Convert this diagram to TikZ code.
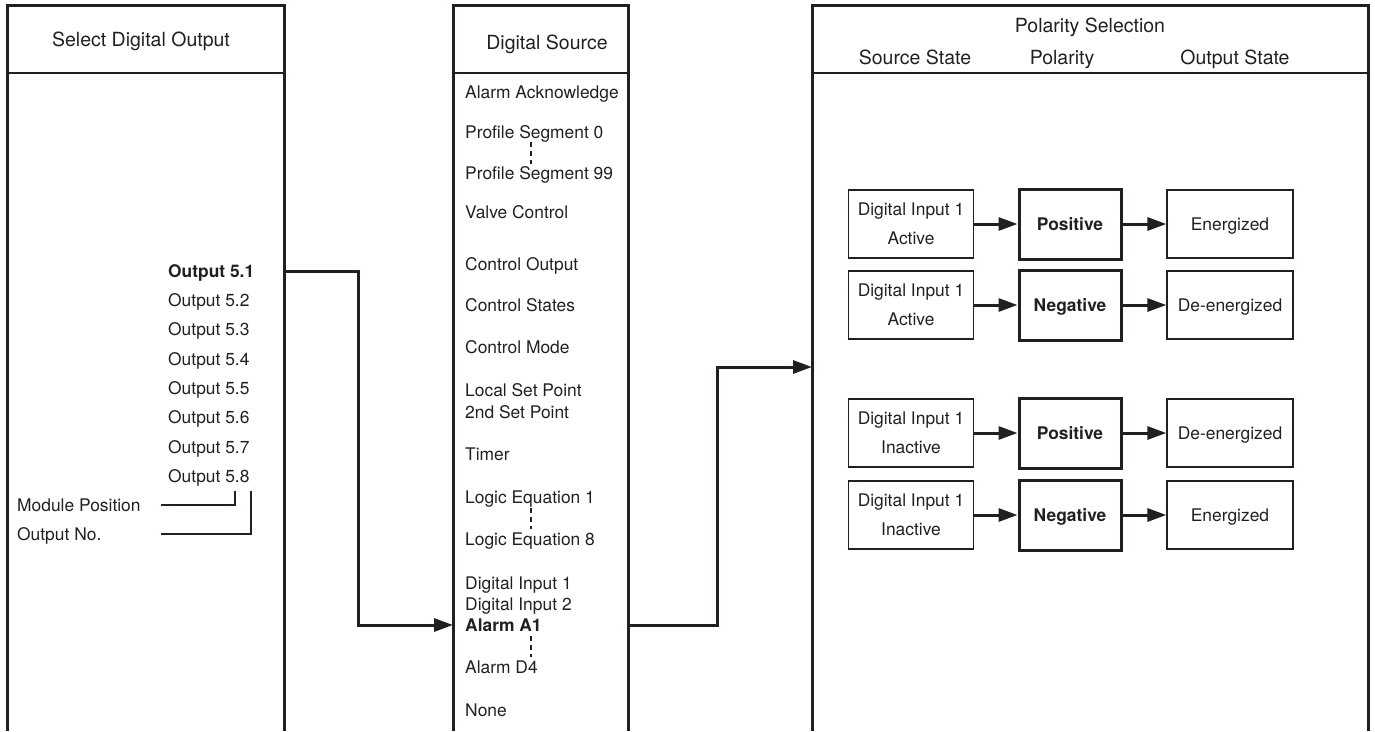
\documentclass[tikz,border=0pt]{standalone}
\usepackage{fontspec}
\setmainfont{TeX Gyre Heros}
\usetikzlibrary{arrows.meta}
\definecolor{ink}{HTML}{231F20}
\tikzset{
  panel/.style={draw=ink, line width=3pt},
  rule/.style={draw=ink, line width=1.4pt},
  lead/.style={draw=ink, line width=1.3pt},
  dots/.style={draw=ink, line width=1.3pt, dash pattern=on 5pt off 4pt},
  item/.style={anchor=west, inner sep=0pt, text height=12.4pt, text depth=0pt,
    text=ink, font=\fontsize{17.4}{22}\selectfont},
  head/.style={item, anchor=center, text height=14pt, font=\fontsize{19.5}{24}\selectfont},
  conn/.style={draw=ink, line width=3pt, -{Triangle[length=19pt,width=13pt]}},
  srcbox/.style={draw=ink, line width=1.3pt, minimum width=125pt, minimum height=68pt,
    inner sep=0pt, align=center, text=ink, font=\fontsize{17.4}{29}\selectfont},
  polbox/.style={srcbox, line width=3pt, minimum width=102pt, minimum height=70pt,
    text height=12.4pt, text depth=0pt, font=\fontsize{17.4}{29}\selectfont\bfseries},
  outbox/.style={srcbox, minimum width=126pt, text height=12.4pt, text depth=0pt}
}
\begin{document}
\begin{tikzpicture}[x=1pt,y=-1pt]
  \useasboundingbox (0,0) rectangle (1375,731);

  % panels, open at the bottom
  \draw[panel] (7,731) -- (7,5) -- (284,5) -- (284,731);
  \draw[rule] (7,73) -- (284,73);
  \draw[panel] (453,731) -- (453,5) -- (628,5) -- (628,731);
  \draw[rule] (453,73) -- (628,73);
  \draw[panel] (812,731) -- (812,5) -- (1368,5) -- (1368,731);
  \draw[rule] (812,73) -- (1368,73);
  \coordinate (selR) at (284,0);
  \coordinate (srcL) at (453,0);
  \coordinate (srcR) at (628,0);
  \coordinate (polIn) at (812,367);

  % select digital output
  \node[head] (hsel) at (141,39) {Select Digital Output};
  \node[item, font=\fontsize{17.4}{22}\selectfont\bfseries] (out1) at (168,271) {Output 5.1};
  \foreach \i in {2,...,8}
    \node[item] (out\i) at (168,{271+29.3*(\i-1)}) {Output 5.\i};
  \node[item] (modpos) at (17,505) {Module Position};
  \node[item] (outno) at (17,534) {Output No.};
  \coordinate (leadx) at (161,0);
  \coordinate (pos5) at (235,491);
  \coordinate (pos8) at (251,491);
  \draw[lead] (modpos.east -| leadx) -| (pos5);
  \draw[lead] (outno.east -| leadx) -| (pos8);

  % digital source
  \node[head] (hsrc) at (547,42) {Digital Source};
  \foreach \nm/\yy/\txt in {ack/92/Alarm Acknowledge, psa/132/Profile Segment 0,
      psb/173/Profile Segment 99, valve/212/Valve Control, cout/264/Control Output,
      cstate/305/Control States, cmode/347/Control Mode, lsp/390/Local Set Point,
      ssp/412/2nd Set Point, timer/454/Timer, lea/497/Logic Equation 1,
      leb/539/Logic Equation 8, dia/583/Digital Input 1, dib/604/Digital Input 2,
      ald/667/Alarm D4, none/710/None}
    \node[item] (\nm) at (465,\yy) {\txt};
  \node[item, font=\fontsize{17.4}{22}\selectfont\bfseries] (ala) at (465,625) {Alarm A1};
  \draw[dots] (531,142) -- (531,164);
  \draw[dots] (531,508) -- (531,529);
  \draw[dots] (531,636) -- (531,657);

  % polarity selection
  \node[head] (hpol) at (1090,25) {Polarity Selection};
  \node[head] (hss) at (915,57) {Source State};
  \node[head] (hpo) at (1062,57) {Polarity};
  \node[head] (hos) at (1235,57) {Output State};
  \foreach \i/\yy/\st/\pol/\res in {1/224/Active/Positive/Energized,
      2/305/Active/Negative/De-energized, 3/433/Inactive/Positive/De-energized,
      4/515/Inactive/Negative/Energized} {
    \node[srcbox] (s\i) at (911,\yy) {Digital Input 1\\\st};
    \node[polbox] (p\i) at (1070,\yy) {\pol};
    \node[outbox] (o\i) at (1230,\yy) {\res};
    \draw[conn] (s\i) -- (p\i);
    \draw[conn] (p\i) -- (o\i);
  }

  % connectors between panels
  \draw[conn] (out1.east -| selR) -- ++(74,0) |- (ala.west -| srcL);
  \draw[conn] (ala.east -| srcR) -- ++(89,0) |- (polIn);
\end{tikzpicture}
\end{document}
